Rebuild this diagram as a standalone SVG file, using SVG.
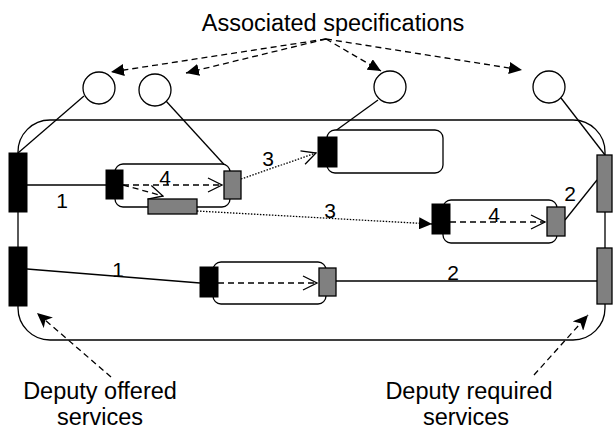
<svg xmlns="http://www.w3.org/2000/svg" width="613" height="430" viewBox="0 0 613 430">
<style>
.ln{stroke:#000;stroke-width:1.3;fill:none}
.dash{stroke-dasharray:6 4}
.dot{stroke-dasharray:1.5 1.5}
.blk{fill:#000;stroke:#000;stroke-width:1}
.gry{fill:#808080;stroke:#000;stroke-width:1.3}
.box{fill:#fff;stroke:#000;stroke-width:1.3}
text{font-family:"Liberation Sans",Arial,sans-serif;fill:#000}
.lbl{font-size:23.5px;text-anchor:middle}
.num{font-size:21px;text-anchor:middle}
</style>
<defs>
<marker id="tri" markerUnits="userSpaceOnUse" markerWidth="14" markerHeight="12" refX="13" refY="6" orient="auto"><path d="M0,0 L13,6 L0,12 Z" fill="#000"/></marker>
<marker id="barb" markerUnits="userSpaceOnUse" markerWidth="16" markerHeight="14" refX="15" refY="7" orient="auto"><path d="M0,0 L15,7 L0,14 L4,7 Z" fill="#000"/></marker>
<marker id="open" markerUnits="userSpaceOnUse" markerWidth="16" markerHeight="16" refX="15" refY="8" orient="auto"><path d="M1,1 L15,8 L1,15" fill="none" stroke="#000" stroke-width="1.3"/></marker>
</defs>

<g id="component">
<rect class="box" x="18" y="120" width="587" height="220" rx="32" ry="32"/>
</g>

<g id="connectors">
<line class="ln" x1="84" y1="96" x2="18" y2="153"/>
<line class="ln" x1="166" y1="101" x2="230" y2="171"/>
<line class="ln" x1="378" y1="100" x2="327" y2="137"/>
<line class="ln" x1="561" y1="98" x2="605" y2="155"/>
<line class="ln" x1="27" y1="185" x2="106" y2="185"/>
<line class="ln" x1="27" y1="269" x2="200" y2="283"/>
<line class="ln" x1="336" y1="281" x2="597" y2="281"/>
<line class="ln" x1="565" y1="220" x2="597" y2="180"/>
<line class="ln dot" x1="241" y1="179" x2="316" y2="153" marker-end="url(#open)"/>
<line class="ln dot" x1="197" y1="211" x2="432" y2="224" marker-end="url(#tri)"/>
<line class="ln dash" x1="326" y1="39" x2="111" y2="72" marker-end="url(#tri)"/>
<line class="ln dash" x1="326" y1="39" x2="186" y2="73" marker-end="url(#tri)"/>
<line class="ln dash" x1="326" y1="39" x2="381" y2="71" marker-end="url(#tri)"/>
<line class="ln dash" x1="326" y1="39" x2="522" y2="70" marker-end="url(#tri)"/>
<line class="ln dash" x1="111" y1="377" x2="37" y2="313" marker-end="url(#barb)"/>
<line class="ln dash" x1="534" y1="375" x2="588" y2="315" marker-end="url(#barb)"/>
</g>

<g id="box1">
<rect class="box" x="115" y="164" width="115" height="43" rx="8"/>
<line class="ln dash" x1="123" y1="185" x2="222" y2="185" marker-end="url(#open)"/>
<line class="ln dash" x1="123" y1="185" x2="163" y2="196" marker-end="url(#open)"/>
<rect class="blk" x="106" y="170" width="17" height="29"/>
<rect class="gry" x="224" y="171" width="17" height="28"/>
<rect class="gry" x="148" y="199" width="49" height="15"/>
</g>
<g id="box3">
<rect class="box" x="327" y="130" width="116" height="43" rx="8"/>
<rect class="blk" x="318" y="137" width="19" height="30"/>
</g>
<g id="box4">
<rect class="box" x="443" y="200" width="114" height="43" rx="8"/>
<line class="ln dash" x1="450" y1="222" x2="545" y2="222" marker-end="url(#open)"/>
<rect class="blk" x="432" y="204" width="18" height="30"/>
<rect class="gry" x="547" y="207" width="18" height="29"/>
</g>
<g id="box5">
<rect class="box" x="213" y="262" width="113" height="42" rx="8"/>
<line class="ln dash" x1="218" y1="283" x2="317" y2="283" marker-end="url(#open)"/>
<rect class="blk" x="200" y="267" width="18" height="30"/>
<rect class="gry" x="319" y="268" width="17" height="28"/>
</g>

<g id="ports">
<rect class="blk" x="9" y="153" width="18" height="59"/>
<rect class="blk" x="9" y="247" width="18" height="59"/>
<rect class="gry" x="597" y="155" width="15" height="57"/>
<rect class="gry" x="597" y="248" width="15" height="56"/>
</g>

<g id="specs">
<circle class="box" cx="99" cy="88" r="16"/>
<circle class="box" cx="155" cy="90" r="16"/>
<circle class="box" cx="390" cy="87" r="16"/>
<circle class="box" cx="549" cy="87" r="16"/>
</g>

<g id="labels">
<text class="lbl" x="333" y="31">Associated specifications</text>
<text class="lbl" x="100" y="399">Deputy offered</text>
<text class="lbl" x="100" y="425">services</text>
<text class="lbl" x="469" y="399">Deputy required</text>
<text class="lbl" x="466" y="425">services</text>
<text class="num" x="62" y="208">1</text>
<text class="num" x="165" y="185">4</text>
<text class="num" x="268" y="166">3</text>
<text class="num" x="330" y="218">3</text>
<text class="num" x="494" y="222">4</text>
<text class="num" x="570" y="201">2</text>
<text class="num" x="118" y="277">1</text>
<text class="num" x="453" y="280">2</text>
</g>
</svg>
